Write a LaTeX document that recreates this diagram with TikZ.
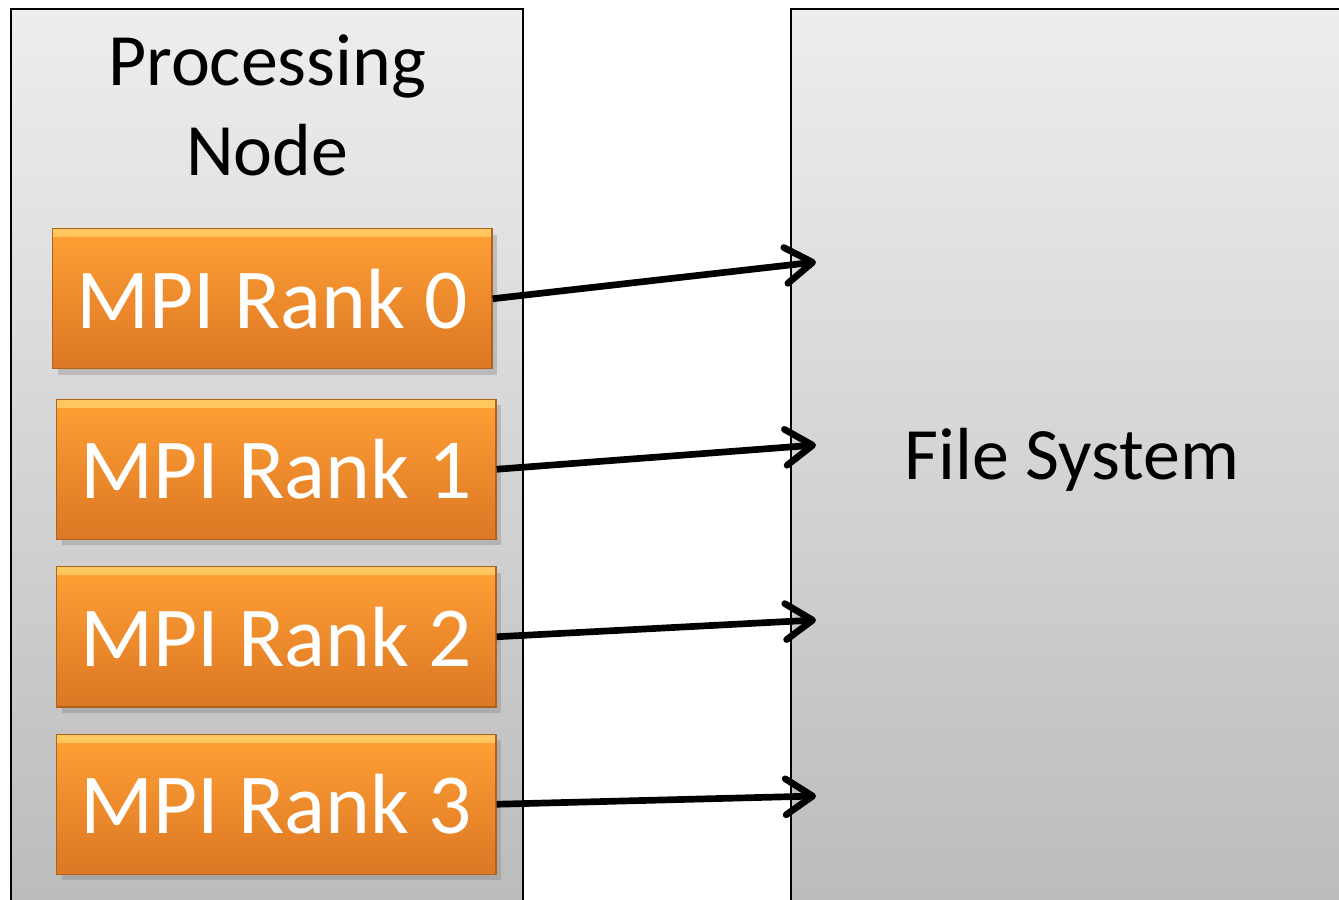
\documentclass[tikz,border=0pt]{standalone}
\usepackage{fontspec}
\setmainfont{Carlito}
\usetikzlibrary{arrows.meta,positioning,shadows}
\definecolor{paneltop}{HTML}{EEEEEE}
\definecolor{panelbot}{HTML}{B6B6B6}
\definecolor{ranktop}{HTML}{FFA035}
\definecolor{rankbot}{HTML}{DC7724}
\definecolor{rankedge}{HTML}{B0621C}
\definecolor{rankglow}{HTML}{FFC860}

\begin{document}
\begin{tikzpicture}[x=0.01cm,y=-0.01cm,
  node distance=2.6mm,
  panel/.style={draw=black,line width=0.6pt,top color=paneltop,bottom color=panelbot,
    anchor=north west,inner sep=0pt},
  label/.style={align=center,font=\fontsize{21}{25.6}\selectfont},
  rank/.style={draw=rankedge,line width=0.4pt,top color=ranktop,bottom color=rankbot,
    minimum width=4.39cm,minimum height=1.40cm,inner sep=0pt,text=white,
    font=\fontsize{24.3}{26}\selectfont,
    path picture={\shade[top color=rankglow,bottom color=ranktop]
      (path picture bounding box.north west) rectangle
      ([yshift=-0.8mm]path picture bounding box.north east);},
    drop shadow={shadow xshift=0.5mm,shadow yshift=-0.6mm,opacity=0.35}},
  send/.style={-{Straight Barb[length=2.7mm,width=3.6mm,round]},line width=1.9pt}]
\useasboundingbox (0,0) rectangle (1339,900);
\fill[white] (0,0) rectangle (1339,900);
% the two panels
\node[panel,minimum width=5.12cm,minimum height=9.92cm] (proc) at (10,8) {};
\node[panel,minimum width=6.2cm,minimum height=9.92cm] (fs) at (790,8) {};
\node[label,below=1.4mm of proc.north] (proctitle) {Processing\\Node};
\node[label] (fstitle) at (1072,460) {File System};
% ranks
\node[rank,anchor=north west] (r0) at (52,228) {MPI Rank 0};
\node[rank,below=2.9mm of r0,xshift=0.4mm] (r1) {MPI Rank 1};
\node[rank,below=of r1] (r2) {MPI Rank 2};
\node[rank,below=of r2] (r3) {MPI Rank 3};
% write targets
\coordinate (in0) at (816,262);
\coordinate (in1) at (816,445);
\coordinate (in2) at (816,620);
\coordinate (in3) at (816,796);
\draw[send] (r0.east) -- (in0);
\draw[send] (r1.east) -- (in1);
\draw[send] (r2.east) -- (in2);
\draw[send] (r3.east) -- (in3);
\end{tikzpicture}
\end{document}
